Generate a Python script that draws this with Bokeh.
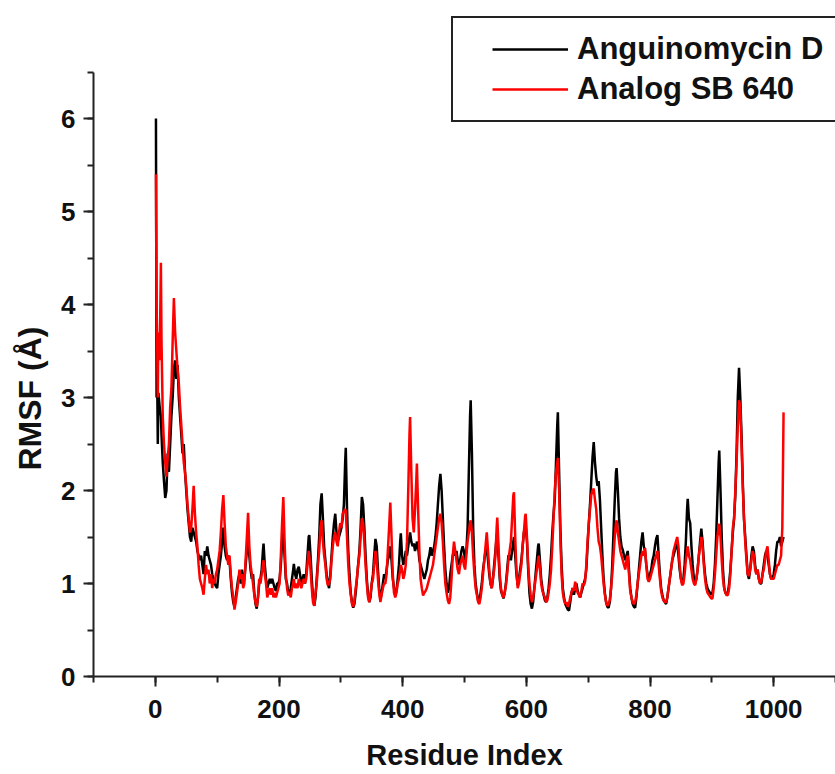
from bokeh.plotting import figure
from bokeh.models import Range1d, SingleIntervalTicker, Legend, LegendItem, Title
from bokeh.embed import file_html
from bokeh.resources import INLINE

# Residue index grid (shared by both series)
residues = [
    1, 2, 3, 4, 5, 7, 9, 10, 12, 14, 16, 18, 20, 22, 24, 26, 28, 30, 32, 34, 36, 38, 40, 42, 44, 46, 48, 50,
    52, 54, 56, 58, 60, 62, 64, 66, 68, 70, 72, 74, 76, 78, 80, 82, 84, 86, 88, 90, 92, 94, 96, 98, 100,
    102, 104, 106, 108, 110, 112, 114, 116, 118, 120, 122, 124, 126, 128, 130, 132, 134, 136, 138, 140,
    142, 144, 146, 148, 150, 152, 154, 156, 158, 160, 162, 164, 166, 168, 170, 172, 174, 175, 177, 179,
    181, 183, 185, 187, 189, 191, 193, 195, 197, 199, 201, 203, 205, 207, 209, 211, 213, 215, 217, 219,
    221, 223, 224, 226, 228, 230, 232, 234, 236, 238, 240, 242, 244, 246, 248, 249, 251, 253, 255, 257,
    259, 261, 263, 265, 267, 269, 271, 273, 275, 277, 279, 281, 283, 285, 287, 289, 291, 293, 295, 297,
    299, 301, 303, 305, 307, 308, 310, 312, 314, 316, 318, 320, 322, 324, 326, 328, 330, 332, 334, 336,
    338, 340, 342, 344, 346, 348, 350, 352, 354, 356, 358, 360, 362, 364, 366, 368, 370, 372, 374, 376,
    378, 380, 382, 384, 386, 388, 390, 392, 394, 396, 397, 399, 401, 403, 405, 407, 409, 411, 412, 414,
    416, 418, 420, 422, 423, 425, 427, 429, 431, 433, 435, 437, 439, 441, 443, 445, 447, 449, 451, 453,
    455, 457, 459, 461, 463, 465, 467, 469, 471, 473, 475, 477, 479, 481, 483, 485, 487, 489, 491, 493,
    495, 497, 499, 501, 503, 505, 507, 509, 510, 512, 514, 516, 518, 520, 522, 524, 526, 528, 530, 532,
    534, 536, 538, 540, 542, 544, 546, 548, 550, 552, 553, 555, 557, 559, 561, 563, 565, 567, 569, 571,
    573, 575, 577, 579, 580, 582, 584, 586, 588, 590, 592, 594, 596, 598, 599, 601, 603, 605, 607, 609,
    611, 613, 615, 617, 619, 620, 622, 624, 626, 628, 630, 632, 634, 636, 638, 640, 642, 644, 646, 648,
    650, 651, 653, 655, 657, 659, 661, 663, 665, 667, 669, 671, 673, 675, 677, 679, 681, 683, 685, 687,
    689, 691, 693, 695, 697, 699, 701, 703, 705, 707, 709, 711, 713, 715, 717, 719, 721, 723, 725, 727,
    729, 731, 733, 735, 737, 739, 741, 743, 745, 746, 748, 750, 752, 754, 756, 758, 760, 762, 764, 766,
    768, 770, 772, 774, 776, 778, 780, 782, 784, 786, 788, 790, 792, 794, 796, 798, 800, 802, 804, 806,
    808, 810, 812, 814, 816, 818, 820, 822, 824, 826, 828, 830, 832, 834, 836, 838, 840, 842, 844, 846,
    848, 850, 852, 854, 856, 858, 860, 861, 863, 865, 867, 869, 871, 873, 875, 877, 879, 881, 883, 885,
    887, 889, 891, 893, 895, 897, 899, 901, 903, 905, 907, 909, 911, 912, 914, 916, 918, 920, 922, 924,
    926, 928, 930, 932, 934, 936, 938, 940, 942, 944, 946, 948, 950, 952, 954, 956, 958, 960, 962, 964,
    966, 968, 970, 972, 974, 976, 978, 980, 982, 984, 986, 988, 990, 992, 994, 996, 998, 1000, 1002, 1004,
    1006, 1008, 1010, 1012, 1014, 1016,
]

# RMSF (Å) — Anguinomycin D (black)
rmsf_anguinomycin = [
    6.00, 3.00, 3.20, 2.50, 3.05, 2.90, 2.80, 2.60, 2.30, 2.10, 1.92, 2.00, 2.40, 2.20, 2.50, 2.80, 3.00, 3.30,
    3.40, 3.20, 3.35, 3.00, 2.80, 2.60, 2.40, 2.50, 2.20, 2.00,
    1.80, 1.65, 1.50, 1.45, 1.60, 1.55, 1.50, 1.45, 1.35, 1.30, 1.25, 1.30, 1.20, 1.10, 1.35, 1.30, 1.40,
    1.30, 1.25, 1.20, 1.10, 1.05, 1.00, 0.97, 0.95,
    1.10, 1.20, 1.30, 1.45, 1.60, 1.40, 1.30, 1.25, 1.30, 1.25, 1.05, 0.90, 0.80, 0.75, 0.85, 0.95, 1.05,
    1.10, 1.00, 1.15,
    1.00, 1.05, 1.20, 1.35, 1.45, 1.30, 1.15, 1.05, 1.10, 0.90, 0.78, 0.73, 0.85, 1.00, 1.05, 1.15, 1.35,
    1.43, 1.20, 1.05,
    0.95, 1.00, 1.05, 1.00, 1.05, 1.00, 0.95, 0.92, 1.00, 1.00, 1.05, 1.20, 1.45, 1.60, 1.30, 1.05, 1.00,
    0.90, 0.88, 0.95,
    1.05, 1.15, 1.21, 1.10, 1.05, 1.15, 1.18, 1.10, 1.00, 1.05, 1.10, 1.00, 1.10, 1.30, 1.50, 1.52, 1.30,
    1.05, 0.85, 0.76,
    0.85, 1.05, 1.25, 1.50, 1.85, 1.97, 1.70, 1.40, 1.25, 1.10, 1.00, 0.95, 1.10, 1.30, 1.50, 1.65, 1.75,
    1.55, 1.45, 1.50,
    1.55, 1.60, 1.70, 1.85, 2.30, 2.46, 1.80, 1.35, 1.10, 0.90, 0.80, 0.74, 0.78, 0.90, 1.05, 1.20, 1.35,
    1.60, 1.93, 1.85,
    1.60, 1.30, 1.05, 0.88, 0.80, 0.85, 1.00, 1.10, 1.30, 1.48, 1.40, 1.15, 0.95, 0.82, 0.90, 1.00, 1.10,
    1.05, 1.15, 1.25,
    1.30, 1.40, 1.25, 1.05, 0.95, 0.88, 0.92, 1.05, 1.20, 1.45, 1.54, 1.30, 1.20, 1.25, 1.35, 1.30, 1.40,
    1.50, 1.55, 1.45,
    1.40, 1.43, 1.35, 1.40, 1.45, 1.40, 1.25, 1.20, 1.15, 1.10, 1.05, 1.10, 1.15, 1.25, 1.30, 1.39, 1.30,
    1.35, 1.40, 1.50,
    1.65, 1.85, 2.05, 2.18, 2.00, 1.70, 1.40, 1.15, 1.00, 0.90, 0.95, 1.10, 1.20, 1.30, 1.35, 1.30, 1.35,
    1.25, 1.20, 1.25,
    1.35, 1.40, 1.35, 1.25, 1.35, 1.60, 2.20, 2.80, 2.97, 2.40, 1.60, 1.20, 1.00, 0.90, 0.82, 0.80, 0.90,
    1.00, 1.15, 1.25,
    1.35, 1.40, 1.25, 1.10, 1.00, 0.95, 1.05, 1.20, 1.35, 1.50, 1.55, 1.30, 1.05, 0.92, 0.88, 0.84, 0.90,
    1.00, 1.15, 1.30,
    1.30, 1.25, 1.35, 1.45, 1.50, 1.30, 1.10, 0.98, 1.05, 1.15, 1.25, 1.40, 1.55, 1.60, 1.62, 1.45, 1.15,
    0.90, 0.78, 0.73,
    0.80, 0.95, 1.10, 1.25, 1.40, 1.43, 1.25, 1.05, 0.95, 0.88, 0.82, 0.80, 0.85, 0.95, 1.10, 1.30, 1.55,
    1.75, 1.90, 2.30,
    2.70, 2.84, 2.20, 1.60, 1.20, 0.95, 0.85, 0.78, 0.75, 0.72, 0.71, 0.80, 0.90, 0.95, 0.88, 0.95, 1.00,
    0.92, 0.88, 0.85,
    0.90, 0.95, 1.00, 1.05, 1.15, 1.40, 1.64, 1.85, 2.10, 2.35, 2.52, 2.30, 2.15, 2.05, 2.10, 1.90, 1.60,
    1.30, 1.05, 0.90,
    0.80, 0.75, 0.74, 0.80, 0.95, 1.20, 1.55, 1.90, 2.20, 2.24, 2.00, 1.70, 1.50, 1.40, 1.36, 1.30, 1.25,
    1.30, 1.35, 1.15,
    0.95, 0.85, 0.78, 0.75, 0.74, 0.85, 1.00, 1.15, 1.30, 1.45, 1.55, 1.40, 1.35, 1.20, 1.10, 1.05, 1.10,
    1.15, 1.25, 1.30,
    1.40, 1.48, 1.52, 1.30, 1.10, 0.95, 0.88, 0.82, 0.80, 0.78, 0.85, 0.95, 1.05, 1.15, 1.25, 1.30, 1.35,
    1.40, 1.45, 1.30,
    1.15, 1.05, 1.00, 1.05, 1.20, 1.45, 1.80, 1.91, 1.70, 1.65, 1.40, 1.20, 1.05, 1.00, 1.05, 1.15, 1.30,
    1.45, 1.59, 1.45,
    1.25, 1.10, 1.00, 0.95, 0.92, 0.90, 0.88, 0.90, 1.00, 1.20, 1.50, 1.90, 2.30, 2.43, 2.00, 1.50, 1.15,
    0.95, 0.90, 0.88,
    0.90, 1.00, 1.15, 1.35, 1.55, 1.70, 1.95, 2.40, 3.00, 3.32, 3.00, 2.60, 2.10, 1.70, 1.50, 1.30, 1.10,
    1.05, 1.15, 1.30,
    1.40, 1.35, 1.20, 1.10, 1.15, 1.05, 1.00, 1.00, 1.10, 1.20, 1.30, 1.35, 1.30, 1.20, 1.10, 1.05, 1.05,
    1.10, 1.20, 1.35,
    1.45, 1.45, 1.50, 1.40, 1.45, 1.50,
]

# RMSF (Å) — Analog SB 640 (red)
rmsf_analog = [
    5.40, 4.00, 3.60, 3.00, 3.70, 3.40, 4.45, 3.60, 2.80, 2.50, 2.30, 2.15, 2.35, 2.50, 2.90, 3.10, 3.60, 4.07,
    3.70, 3.50, 3.30, 3.15, 2.90, 2.70, 2.50, 2.30, 2.20, 2.05,
    1.85, 1.70, 1.55, 1.60, 1.80, 2.05, 1.75, 1.55, 1.40, 1.20, 1.05, 1.00, 0.95, 0.88, 1.05, 1.20, 1.10,
    1.15, 1.00, 1.10, 0.95, 1.05, 1.00, 1.10, 1.15,
    1.25, 1.35, 1.55, 1.80, 1.95, 1.65, 1.40, 1.30, 1.20, 1.30, 1.10, 0.95, 0.85, 0.72, 0.80, 0.90, 1.00,
    1.15, 1.05, 1.10,
    0.95, 1.00, 1.25, 1.50, 1.76, 1.40, 1.20, 1.10, 1.00, 0.88, 0.80, 0.75, 0.85, 1.05, 1.00, 1.10, 1.20,
    1.25, 1.10, 1.00,
    0.85, 0.90, 0.95, 0.88, 0.95, 0.85, 0.90, 0.85, 0.90, 0.95, 1.00, 1.30, 1.65, 1.93, 1.45, 1.10, 0.95,
    0.87, 0.90, 0.85,
    0.95, 1.00, 1.05, 0.95, 1.00, 0.95, 1.05, 1.00, 0.95, 1.00, 1.05, 1.00, 1.05, 1.20, 1.35, 1.30, 1.15,
    0.95, 0.80, 0.76,
    0.90, 1.00, 1.20, 1.35, 1.60, 1.68, 1.45, 1.30, 1.20, 1.05, 0.98, 1.00, 1.05, 1.25, 1.40, 1.50, 1.55,
    1.45, 1.40, 1.55,
    1.65, 1.60, 1.75, 1.78, 1.80, 1.78, 1.50, 1.20, 1.00, 0.88, 0.78, 0.75, 0.82, 0.95, 1.05, 1.20, 1.30,
    1.50, 1.70, 1.65,
    1.45, 1.20, 1.00, 0.85, 0.80, 0.88, 1.00, 1.05, 1.20, 1.35, 1.25, 1.05, 0.90, 0.80, 0.88, 0.95, 1.00,
    1.00, 1.10, 1.35,
    1.60, 1.87, 1.50, 1.10, 0.90, 0.85, 0.90, 1.00, 1.05, 1.15, 1.20, 1.15, 1.05, 1.10, 1.20, 1.45, 2.00,
    2.60, 2.79, 2.20,
    1.70, 1.55, 1.80, 2.10, 2.29, 1.80, 1.35, 1.05, 0.95, 0.87, 0.90, 0.92, 0.95, 1.00, 1.05, 1.10, 1.15,
    1.20, 1.30, 1.40,
    1.50, 1.60, 1.70, 1.75, 1.65, 1.45, 1.20, 1.00, 0.90, 0.82, 0.78, 0.85, 1.05, 1.30, 1.45, 1.35, 1.25,
    1.15, 1.10, 1.20,
    1.25, 1.30, 1.20, 1.15, 1.30, 1.45, 1.55, 1.65, 1.68, 1.55, 1.30, 1.10, 0.95, 0.88, 0.80, 0.78, 0.85,
    0.95, 1.10, 1.25,
    1.40, 1.55, 1.35, 1.15, 1.00, 0.95, 1.05, 1.15, 1.30, 1.60, 1.71, 1.40, 1.10, 0.95, 0.88, 0.85, 0.90,
    0.98, 1.10, 1.25,
    1.35, 1.45, 1.70, 1.95, 1.98, 1.50, 1.15, 0.95, 1.00, 1.10, 1.20, 1.40, 1.55, 1.72, 1.75, 1.50, 1.20,
    1.00, 0.88, 0.80,
    0.85, 0.95, 1.05, 1.15, 1.25, 1.30, 1.15, 1.00, 0.92, 0.88, 0.85, 0.80, 0.82, 0.90, 1.00, 1.15, 1.40,
    1.70, 2.00, 2.20,
    2.30, 2.35, 2.00, 1.50, 1.10, 0.90, 0.82, 0.78, 0.80, 0.75, 0.78, 0.85, 0.90, 0.95, 0.92, 1.02, 0.95,
    0.90, 0.88, 0.85,
    0.92, 1.00, 0.98, 1.02, 1.20, 1.45, 1.64, 1.80, 1.95, 2.00, 2.02, 1.90, 1.80, 1.60, 1.45, 1.40, 1.30,
    1.15, 1.00, 0.88,
    0.80, 0.76, 0.78, 0.82, 0.95, 1.10, 1.30, 1.50, 1.65, 1.68, 1.55, 1.45, 1.35, 1.30, 1.25, 1.20, 1.15,
    1.25, 1.30, 1.10,
    0.92, 0.85, 0.80, 0.78, 0.80, 0.88, 1.00, 1.10, 1.20, 1.30, 1.35, 1.30, 1.38, 1.20, 1.05, 1.02, 1.05,
    1.10, 1.15, 1.20,
    1.25, 1.30, 1.35, 1.20, 1.05, 0.92, 0.85, 0.82, 0.80, 0.80, 0.85, 0.95, 1.05, 1.15, 1.25, 1.35, 1.40,
    1.45, 1.50, 1.40,
    1.20, 1.05, 0.98, 1.00, 1.10, 1.25, 1.35, 1.40, 1.30, 1.25, 1.15, 1.05, 1.00, 0.98, 1.05, 1.15, 1.30,
    1.40, 1.50, 1.40,
    1.20, 1.05, 0.95, 0.90, 0.88, 0.86, 0.84, 0.84, 0.95, 1.10, 1.30, 1.50, 1.62, 1.64, 1.50, 1.25, 1.05,
    0.95, 0.90, 0.87,
    0.88, 0.95, 1.10, 1.35, 1.60, 1.70, 2.00, 2.30, 2.70, 2.97, 2.90, 2.50, 2.05, 1.70, 1.45, 1.25, 1.10,
    1.08, 1.15, 1.25,
    1.35, 1.30, 1.15, 1.10, 1.15, 1.05, 1.00, 1.02, 1.10, 1.15, 1.25, 1.35, 1.40, 1.25, 1.10, 1.05, 1.05,
    1.05, 1.10, 1.15,
    1.20, 1.20, 1.25, 1.30, 1.60, 2.84,
]

FONT = "Liberation Sans"
Y_TOP = 676 / 93.0  # frame reaches the top edge; the drawn y axis stops at 6.5

p = figure(
    width=835, height=774,
    x_range=Range1d(-100, 1100), y_range=Range1d(0, Y_TOP),
    output_backend="svg", toolbar_location=None,
    min_border_left=92, min_border_right=0, min_border_top=0, min_border_bottom=98,
)
p.outline_line_color = None
p.grid.visible = False
p.background_fill_color = "white"
p.border_fill_color = "white"

l_a = p.line(residues, rmsf_anguinomycin, line_color="#000000", line_width=2.5)
l_b = p.line(residues, rmsf_analog, line_color="#ff0000", line_width=2.5)

p.xaxis.ticker = SingleIntervalTicker(interval=200, num_minor_ticks=2)
p.yaxis.ticker = SingleIntervalTicker(interval=1, num_minor_ticks=2)
p.yaxis.bounds = (0, 6.5)
p.xaxis.axis_label = "Residue Index"

for ax in (p.xaxis[0], p.yaxis[0]):
    ax.axis_line_width = 2
    ax.axis_line_color = "#222222"
    ax.major_tick_line_width = 2
    ax.minor_tick_line_width = 2
    ax.major_tick_line_color = "#222222"
    ax.minor_tick_line_color = "#222222"
    ax.major_tick_in = 0
    ax.major_tick_out = 10
    ax.minor_tick_in = 0
    ax.minor_tick_out = 6
    ax.major_label_text_font = FONT
    ax.major_label_text_font_style = "bold"
    ax.major_label_text_font_size = "26px"
    ax.major_label_text_color = "#111111"
    ax.axis_label_text_font = FONT
    ax.axis_label_text_font_style = "bold"
    ax.axis_label_text_font_size = "29px"
    ax.axis_label_text_color = "#111111"

p.xaxis.major_label_standoff = 13
p.xaxis.axis_label_standoff = 18
p.yaxis.major_label_standoff = 8

# y label as a side title so it can sit where the reference puts it
ytitle = Title(
    text="RMSF (Å)", align="left", offset=206, vertical_align="middle", standoff=20,
    text_font=FONT, text_font_style="bold", text_font_size="32px", text_color="#111111",
)
p.add_layout(ytitle, "left")

legend = Legend(
    items=[LegendItem(label="Anguinomycin D", renderers=[l_a]),
           LegendItem(label="Analog SB 640", renderers=[l_b])],
    location=(358, 554),
    margin=0, padding=13, spacing=4,
    glyph_width=76, glyph_height=32, label_standoff=9, label_width=300,
    label_text_font=FONT, label_text_font_style="bold", label_text_font_size="31px",
    label_text_color="#111111",
    border_line_color="#222222", border_line_width=2, border_line_alpha=1,
    background_fill_color="white", background_fill_alpha=1,
    title=" ", title_location="left", title_text_font_size="16px", title_standoff=8,
)
p.add_layout(legend, "center")

open("out.html", "w").write(file_html(p, INLINE))
